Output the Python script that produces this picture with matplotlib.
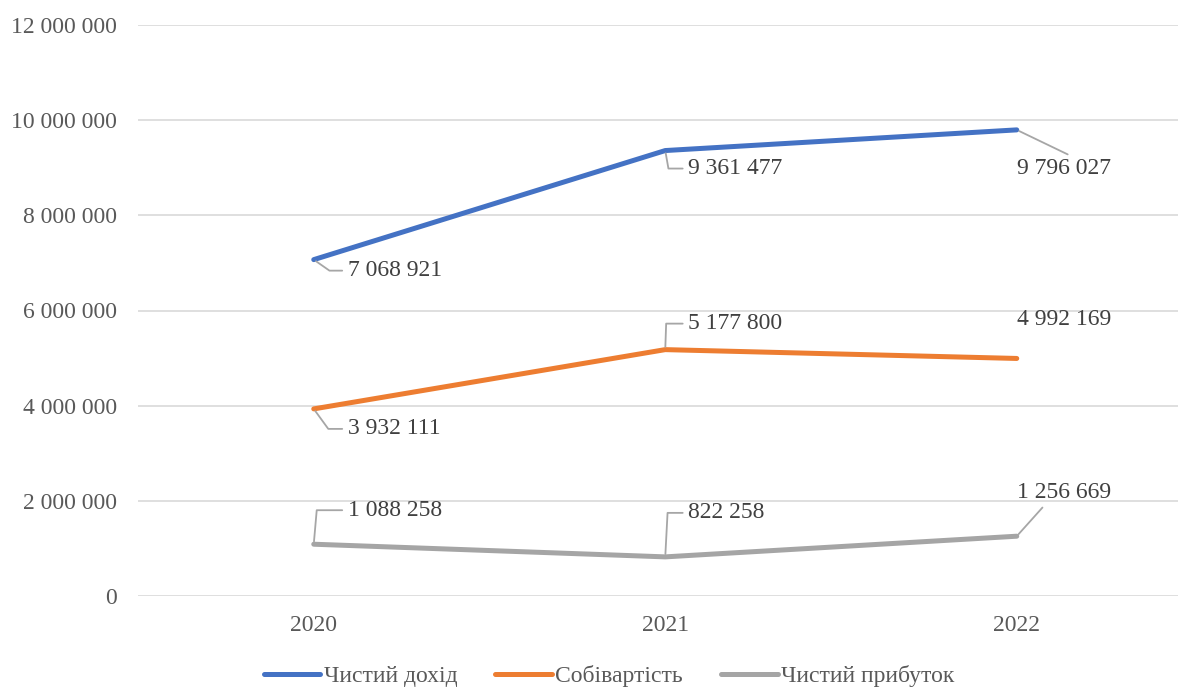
import matplotlib
matplotlib.use("Agg")
import matplotlib.pyplot as plt
from matplotlib.ticker import FuncFormatter

plt.rcParams["font.family"] = ["Liberation Serif", "DejaVu Serif"]

# data
years = ["2020", "2021", "2022"]
revenue = [7068921, 9361477, 9796027]
cost = [3932111, 5177800, 4992169]
profit = [1088258, 822258, 1256669]

series = [
    ("Чистий дохід", revenue, "#4472C4"),
    ("Собівартість", cost, "#ED7D31"),
    ("Чистий прибуток", profit, "#A5A5A5"),
]

# label placement: (dx, dy in pixels, ha, leader)
label_pos = [
    [(34, -11, "left", ("angle", -35)), (23, -18, "left", ("angle", -80)), (47, -39, "center", ("line", (0.63, 1.0)))],
    [(34, -20, "left", ("angle", -54)), (23, 26, "left", ("angle", 88)), (47, 39, "center", None)],
    [(34, 34, "left", ("angle", 85)), (23, 44, "left", ("angle", 87)), (47, 44, "center", ("line", (0.32, 0.0)))],
]

fig = plt.figure(figsize=(11.78, 6.87), dpi=100)
ax = fig.add_axes([138 / 1178, 91 / 687, 1054.5 / 1178, 571 / 687])

x = list(range(len(years)))
for k, (name, vals, col) in enumerate(series):
    ax.plot(x, vals, color=col, lw=3.6, solid_capstyle="round", label=name, zorder=3)
    for i, v in enumerate(vals):
        dx, dy, ha, lead = label_pos[k][i]
        arrow = None
        if lead is not None and lead[0] == "angle":
            arrow = dict(arrowstyle="-", color="#A6A6A6", lw=1.3,
                         connectionstyle=f"angle,angleA=0,angleB={lead[1]},rad=0")
        elif lead is not None:
            arrow = dict(arrowstyle="-", color="#A6A6A6", lw=1.3,
                         relpos=lead[1], connectionstyle="arc3")
        ax.annotate(f"{v:,}".replace(",", " "), xy=(i, v), xytext=(dx, dy),
                    textcoords="offset pixels", ha=ha, va="center",
                    fontsize=17, color="#404040", arrowprops=arrow, zorder=4)

ax.set_xlim(-0.5, 2.5)
ax.set_ylim(0, 12000000)
ax.set_yticks(range(0, 12000001, 2000000))
ax.set_xticks(x)
ax.set_xticklabels(years)
ax.yaxis.set_major_formatter(FuncFormatter(lambda v, p: f"{int(v):,}".replace(",", " ")))

ax.grid(axis="y", color="#D9D9D9", lw=1.2)
ax.set_axisbelow(True)
for s in ax.spines.values():
    s.set_visible(False)
ax.tick_params(axis="both", length=0, labelsize=17, labelcolor="#595959")
ax.tick_params(axis="y", pad=15)
ax.tick_params(axis="x", pad=14)

fig.legend(loc="center", bbox_to_anchor=(0.517, 0.016), ncol=3, frameon=False,
           fontsize=17, handlelength=2.4, handletextpad=0.15, columnspacing=1.6,
           borderpad=0, labelcolor="#595959")

fig.savefig("out.png", dpi=100)
